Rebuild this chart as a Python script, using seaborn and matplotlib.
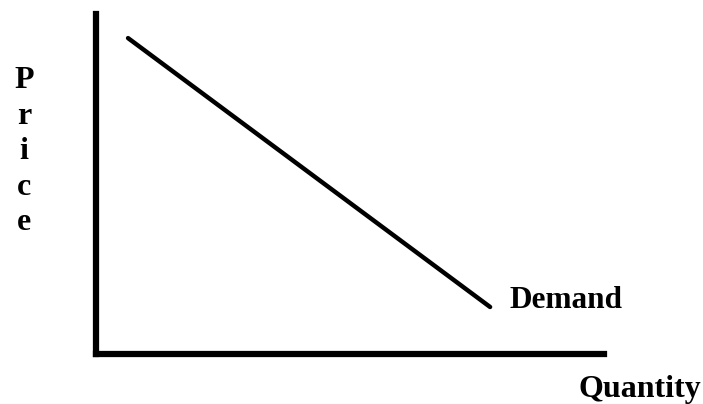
import matplotlib
matplotlib.use("Agg")
import matplotlib.pyplot as plt
import seaborn as sns
import pandas as pd

# -----------------------------------------
# Data
# -----------------------------------------

quantity = [6.4, 77.6]
price = [92.9, 13.7]

curve_label = "Demand"
x_label = "Quantity"
y_label = "Price"

df = pd.DataFrame({"Quantity": quantity, "Price": price})

# -----------------------------------------
# Style
# -----------------------------------------

sns.set_style("white")
plt.rcParams["font.family"] = ["Liberation Serif", "DejaVu Serif"]
plt.rcParams["font.weight"] = "bold"
plt.rcParams["text.color"] = "black"

W, H = 703, 404
fig = plt.figure(figsize=(W / 100, H / 100), dpi=100)

ax = fig.add_axes([95.5 / W, 50.5 / H, (604 - 95.5) / W, (353.5 - 14) / H])

sns.lineplot(data=df, x="Quantity", y="Price", ax=ax,
             color="black", linewidth=3.2)

ax.set_xlim(0, 100)
ax.set_ylim(0, 100)
ax.set_xticks([])
ax.set_yticks([])
ax.set_xlabel("")
ax.set_ylabel("")

for side in ["top", "right"]:
    ax.spines[side].set_visible(False)
for side in ["left", "bottom"]:
    ax.spines[side].set_visible(True)
    ax.spines[side].set_color("black")
    ax.spines[side].set_linewidth(4.5)

# -----------------------------------------
# Labels
# -----------------------------------------

fig.text(510 / W, 1 - 308 / H, curve_label, fontsize=22.5,
         fontweight="bold", ha="left", va="baseline")
fig.text(578 / W, 1 - 397 / H, x_label, fontsize=23,
         fontweight="bold", ha="left", va="baseline")
fig.text(24 / W, 1 - 230 / H, "\n".join(y_label), fontsize=23,
         fontweight="bold", ha="center", va="baseline",
         multialignment="center", linespacing=1.29)

fig.savefig("out.png", dpi=100)
